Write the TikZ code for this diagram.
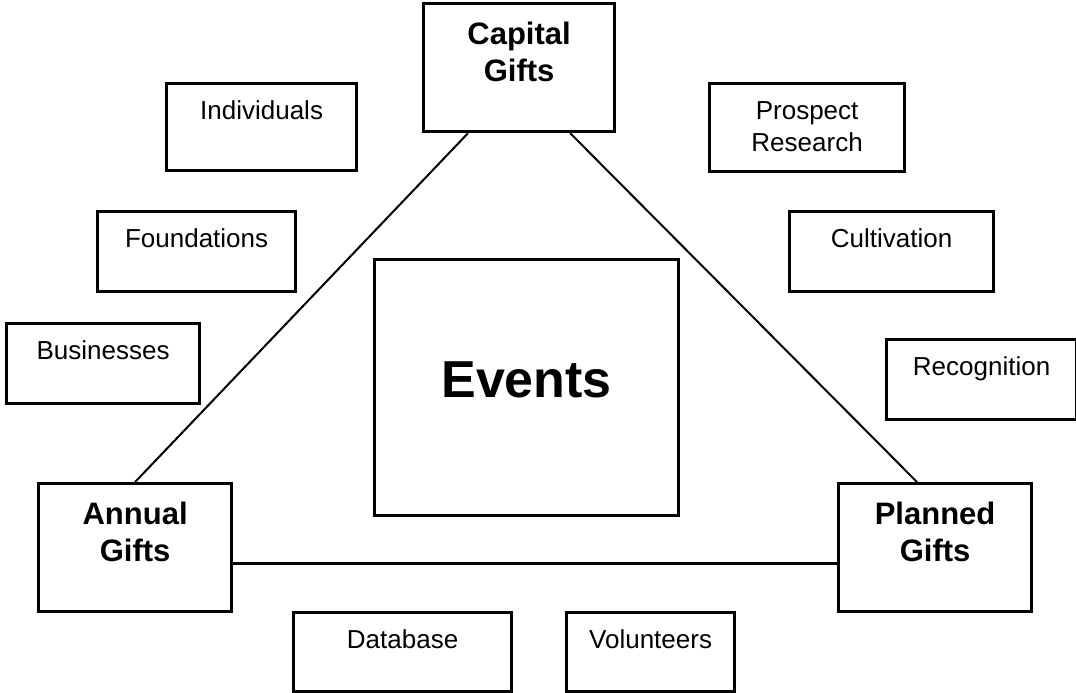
\documentclass[tikz,border=0pt]{standalone}
\usepackage{fontspec}
\setmainfont{Liberation Sans}

\begin{document}
\begin{tikzpicture}[
    x=1pt, y=-1pt,
    % Define a style for the plain boxes
    box/.style={draw=black, line width=3.2pt, anchor=north west, inner sep=0pt, align=center,
        font=\fontsize{26}{32}\selectfont, text height=36pt},
    % Bold boxes at the corners of the triangle
    hub/.style={box, font=\fontsize{31}{37}\selectfont\bfseries, text height=41pt},
    % Lines of the triangle
    link/.style={draw=black, line width=2pt}
]
    \useasboundingbox (0,0) rectangle (1076,693);

    % The three corners and the centre box
    \node[hub, text width=191pt, text depth=87pt] (cap) at (422,2) {Capital\\Gifts};
    \node[hub, text width=193pt, text depth=87pt] (ann) at (37,482) {Annual\\Gifts};
    \node[hub, text width=193pt, text depth=87pt] (pla) at (837,482) {Planned\\Gifts};
    \node[hub, font=\fontsize{52}{60}\selectfont\bfseries, text width=304pt,
        text height=138pt, text depth=118pt] (eve) at (373,258) {Events};

    % Place the plain boxes: name/x/y/width/height/text
    \foreach \name/\x/\y/\w/\h/\txt in {ind/165/82/190/87/Individuals,
        pro/708/82/195/88/{Prospect\\Research},
        fou/96/210/198/80/Foundations,
        cul/788/210/204/80/Cultivation,
        bus/5/322/193/80/Businesses,
        rec/885/338/190/80/Recognition,
        dat/292/611/218/79/Database,
        vol/565/611/168/79/Volunteers} {
        \node[box, text width=\w pt, text depth=\h pt - 36pt] (\name) at (\x,\y) {\txt};
    }

    % The triangle
    \draw[link] ([xshift=46pt]cap.south west) -- (ann.north);
    \draw[link] ([xshift=-46pt]cap.south east) -- ([xshift=80pt]pla.north west);
    \draw[link, line width=3pt] ([yshift=-16pt]ann.east) -- ([yshift=-16pt]pla.west);
\end{tikzpicture}
\end{document}
